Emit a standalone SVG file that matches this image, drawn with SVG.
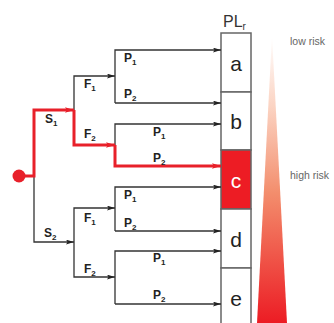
<svg xmlns="http://www.w3.org/2000/svg" width="334" height="323" viewBox="0 0 334 323">
<style>
.ln{fill:none;stroke:#333;stroke-width:1.3;marker-end:url(#ah)}
.rd{fill:none;stroke:#e8202a;stroke-width:3;marker-end:url(#ahr)}
.lb{font-family:"Liberation Sans",Arial,sans-serif;font-weight:bold;font-size:12px;fill:#222}
.sb{font-size:8px}
.cell{fill:#fff;stroke:#666;stroke-width:1.5}
.let{font-family:"Liberation Sans",Arial,sans-serif;font-size:21px;fill:#222;text-anchor:middle}
.risk{font-family:"Liberation Sans",Arial,sans-serif;font-size:10.5px;fill:#666}
</style>
<defs>
<marker id="ah" viewBox="0 0 10 6" refX="10" refY="3" markerWidth="8" markerHeight="5" markerUnits="userSpaceOnUse" orient="auto">
<path d="M0,0 L10,3 L0,6 L2,3 Z" fill="#222"/>
</marker>
<marker id="ahr" viewBox="0 0 10 6" refX="10" refY="3" markerWidth="9" markerHeight="6" markerUnits="userSpaceOnUse" orient="auto">
<path d="M0,0 L10,3 L0,6 L2,3 Z" fill="#e8202a"/>
</marker>
<linearGradient id="grad" x1="0" y1="35" x2="0" y2="323" gradientUnits="userSpaceOnUse">
<stop offset="0" stop-color="#ffffff"/>
<stop offset="0.25" stop-color="#fbd3c2"/>
<stop offset="0.55" stop-color="#f38d6c"/>
<stop offset="1" stop-color="#ec1c24"/>
</linearGradient>
</defs>

<g id="gradient">
<polygon points="272,35 287,323 257,323" fill="url(#grad)"/>
</g>

<g id="plr-column">
<text x="223" y="27" font-family="'Liberation Sans',Arial,sans-serif" font-size="16" fill="#333" font-weight="300">PL<tspan font-size="10" dy="3">r</tspan></text>
<g id="cell-a"><rect class="cell" x="221" y="33" width="30" height="59"/><text class="let" x="236" y="71">a</text></g>
<g id="cell-b"><rect class="cell" x="221" y="92" width="30" height="58"/><text class="let" x="236" y="129">b</text></g>
<g id="cell-c"><rect x="221" y="150" width="30" height="59" fill="#ed1c24" stroke="#666" stroke-width="1.5"/><text class="let" x="236" y="188" fill="#fff" style="fill:#fff">c</text></g>
<g id="cell-d"><rect class="cell" x="221" y="209" width="30" height="59"/><text class="let" x="236" y="247">d</text></g>
<g id="cell-e"><rect class="cell" x="221" y="268" width="30" height="60"/><text class="let" x="236" y="306">e</text></g>
</g>

<g id="risk-labels">
<text class="risk" x="290" y="45">low risk</text>
<text class="risk" x="290" y="179">high risk</text>
</g>

<g id="connectors">
<path class="ln" d="M34,176 V242 H74"/>
<path class="ln" d="M74,110 V76 H115"/>
<path class="ln" d="M115,103 V50 H221"/>
<path class="ln" d="M115,103 H221"/>
<path class="ln" d="M115,145 V124 H221"/>
<path class="ln" d="M74,242 V208 H115"/>
<path class="ln" d="M74,242 V277 H115"/>
<path class="ln" d="M115,231 V187 H221"/>
<path class="ln" d="M115,231 H221"/>
<path class="ln" d="M115,304 V251 H221"/>
<path class="ln" d="M115,304 H221"/>
<path class="rd" d="M19,176 H34 V110 H74"/>
<path class="rd" d="M74,110 V145 H115"/>
<path class="rd" d="M115,145 V166 H221"/>
</g>

<g id="start">
<circle cx="19" cy="176" r="6.5" fill="#e8202a"/>
</g>

<g id="labels">
<text class="lb" x="45" y="123">S<tspan class="sb" dy="3">1</tspan></text>
<text class="lb" x="44" y="237">S<tspan class="sb" dy="3">2</tspan></text>
<text class="lb" x="84" y="88">F<tspan class="sb" dy="3">1</tspan></text>
<text class="lb" x="84" y="138">F<tspan class="sb" dy="3">2</tspan></text>
<text class="lb" x="84" y="222">F<tspan class="sb" dy="3">1</tspan></text>
<text class="lb" x="84" y="273">F<tspan class="sb" dy="3">2</tspan></text>
<text class="lb" x="124" y="62">P<tspan class="sb" dy="3">1</tspan></text>
<text class="lb" x="124" y="98">P<tspan class="sb" dy="3">2</tspan></text>
<text class="lb" x="153" y="136">P<tspan class="sb" dy="3">1</tspan></text>
<text class="lb" x="153" y="162">P<tspan class="sb" dy="3">2</tspan></text>
<text class="lb" x="124" y="199">P<tspan class="sb" dy="3">1</tspan></text>
<text class="lb" x="124" y="227">P<tspan class="sb" dy="3">2</tspan></text>
<text class="lb" x="153" y="262">P<tspan class="sb" dy="3">1</tspan></text>
<text class="lb" x="153" y="299">P<tspan class="sb" dy="3">2</tspan></text>
</g>
</svg>
